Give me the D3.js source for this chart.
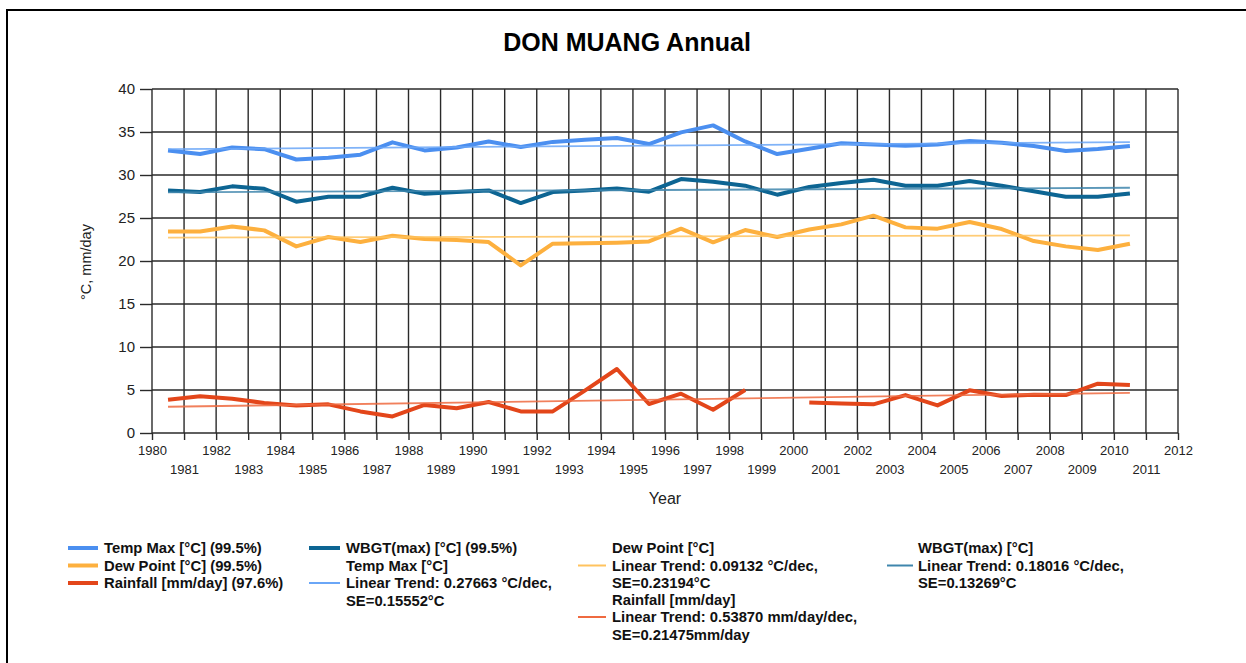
<!DOCTYPE html>
<html>
<head>
<meta charset="utf-8">
<script src="https://cdn.jsdelivr.net/npm/d3@7"></script>
<style>
  body { margin: 0; background: #fff; }
  text { font-family: "Liberation Sans", Arial, sans-serif; }
</style>
</head>
<body>
<div id="chart"></div>
<script>
var width = 1246;
var height = 663;

// years of the annual values (points sit in the middle of each year)
var years = [1980, 1981, 1982, 1983, 1984, 1985, 1986, 1987, 1988, 1989,
             1990, 1991, 1992, 1993, 1994, 1995, 1996, 1997, 1998, 1999,
             2000, 2001, 2002, 2003, 2004, 2005, 2006, 2007, 2008, 2009, 2010];

var tempMax = [32.86, 32.44, 33.2, 33.0, 31.8, 32.0, 32.36, 33.8, 32.86, 33.2,
               33.9, 33.25, 33.85, 34.1, 34.3, 33.6, 34.96, 35.77, 33.9, 32.44,
               33.06, 33.7, 33.56, 33.4, 33.55, 33.95, 33.76, 33.37, 32.79, 33.02, 33.37];
var wbgtMax = [28.21, 28.02, 28.68, 28.4, 26.9, 27.48, 27.48, 28.52, 27.83, 28.02,
               28.21, 26.74, 28.02, 28.21, 28.44, 28.06, 29.53, 29.22, 28.76, 27.71,
               28.6, 29.07, 29.45, 28.76, 28.76, 29.3, 28.76, 28.1, 27.48, 27.48, 27.86];
var dewPoint = [23.44, 23.44, 24.02, 23.56, 21.7, 22.79, 22.2, 22.94, 22.56, 22.44,
                22.2, 19.49, 22.01, 22.05, 22.13, 22.28, 23.76, 22.17, 23.6, 22.79,
                23.67, 24.26, 25.27, 23.91, 23.76, 24.53, 23.72, 22.32, 21.7, 21.28, 22.01];
var rainfall = [3.87, 4.26, 3.99, 3.49, 3.21, 3.33, 2.51, 1.93, 3.26, 2.87,
                3.6, 2.51, 2.51, 4.92, 7.44, 3.37, 4.57, 2.71, 5.0, null,
                3.56, 3.44, 3.33, 4.41, 3.21, 4.96, 4.3, 4.45, 4.41, 5.73, 5.58];

// linear trend lines, value at first and last year
var trendYears = [1980, 2010];
var tempTrend = [33.0, 33.83];
var wbgtTrend = [27.98, 28.52];
var dewTrend = [22.72, 22.99];
var rainTrend = [3.05, 4.67];

var yTicks = [0, 5, 10, 15, 20, 25, 30, 35, 40];
var xTicks = d3.range(1980, 2013);

var series = [
    {name: "Temp Max [°C] (99.5%)", values: tempMax, color: "#4b8ff0"},
    {name: "WBGT(max) [°C] (99.5%)", values: wbgtMax, color: "#0d6593"},
    {name: "Dew Point [°C] (99.5%)", values: dewPoint, color: "#fdb03e"},
    {name: "Rainfall [mm/day] (97.6%)", values: rainfall, color: "#e3461a"}
];
var trends = [
    {values: tempTrend, color: "#6aa6f7"},
    {values: wbgtTrend, color: "#3f86ad"},
    {values: dewTrend, color: "#ffc35e"},
    {values: rainTrend, color: "#ef6a40"}
];

var xScale = d3.scaleLinear().domain([1980, 2012]).range([152, 1178]);
var yScale = d3.scaleLinear().domain([0, 40]).range([433, 89]);

var svg = d3.select("#chart")
    .append("svg")
    .attr("width", width)
    .attr("height", height);

// page frame
svg.append("path")
    .attr("d", "M7," + height + "V10H" + width)
    .attr("fill", "none")
    .attr("stroke", "#000")
    .attr("stroke-width", 2);

svg.append("text")
    .attr("x", 627)
    .attr("y", 51)
    .attr("text-anchor", "middle")
    .style("font-size", "25px")
    .style("font-weight", "bold")
    .text("DON MUANG Annual");

// grid
var gridG = svg.append("g").attr("stroke", "#2a2a2a").attr("stroke-width", 1.4);
gridG.selectAll(".vgrid")
    .data(xTicks)
    .enter()
    .append("line")
    .attr("x1", function(d) { return xScale(d); })
    .attr("x2", function(d) { return xScale(d); })
    .attr("y1", yScale(40))
    .attr("y2", yScale(0));
gridG.selectAll(".hgrid")
    .data(yTicks)
    .enter()
    .append("line")
    .attr("x1", xScale(1980))
    .attr("x2", xScale(2012))
    .attr("y1", function(d) { return yScale(d); })
    .attr("y2", function(d) { return yScale(d); });

// axes
var yAxis = d3.axisLeft(yScale).tickValues(yTicks).tickSize(12).tickPadding(5);
var yAxisG = svg.append("g")
    .attr("transform", "translate(" + xScale(1980) + ",0)")
    .call(yAxis);
yAxisG.select(".domain").remove();
yAxisG.selectAll("line").attr("stroke", "#2a2a2a").attr("stroke-width", 1.4);
yAxisG.selectAll("text")
    .attr("fill", "#222")
    .style("font-size", "15px")
    .style("font-family", "'Liberation Sans', Arial, sans-serif");

var xAxis = d3.axisBottom(xScale).tickValues(xTicks).tickSize(7).tickFormat(d3.format("d"));
var xAxisG = svg.append("g")
    .attr("transform", "translate(0," + yScale(0) + ")")
    .call(xAxis);
xAxisG.select(".domain").remove();
xAxisG.selectAll("line").attr("stroke", "#2a2a2a").attr("stroke-width", 1.4);
xAxisG.selectAll("text")
    .attr("fill", "#222")
    .attr("y", function(d) { return d % 2 == 0 ? 13 : 32; })
    .style("font-size", "13px")
    .style("font-family", "'Liberation Sans', Arial, sans-serif");

svg.append("text")
    .attr("x", 665)
    .attr("y", 504)
    .attr("text-anchor", "middle")
    .attr("fill", "#222")
    .style("font-size", "16px")
    .text("Year");

svg.append("text")
    .attr("transform", "translate(91,262) rotate(-90)")
    .attr("text-anchor", "middle")
    .attr("fill", "#222")
    .style("font-size", "14.5px")
    .text("°C, mm/day");

// data lines
var line = d3.line()
    .defined(function(d) { return d.v != null; })
    .x(function(d) { return xScale(d.year + 0.5); })
    .y(function(d) { return yScale(d.v); });

svg.selectAll(".series")
    .data(series)
    .enter()
    .append("path")
    .attr("class", "series")
    .attr("fill", "none")
    .attr("stroke", function(d) { return d.color; })
    .attr("stroke-width", 4)
    .attr("stroke-linejoin", "round")
    .attr("d", function(s) {
        return line(years.map(function(y, i) { return {year: y, v: s.values[i]}; }));
    });

svg.selectAll(".trend")
    .data(trends)
    .enter()
    .append("path")
    .attr("class", "trend")
    .attr("fill", "none")
    .attr("stroke", function(d) { return d.color; })
    .attr("stroke-width", 1.8)
    .attr("stroke-opacity", 0.85)
    .attr("d", function(s) {
        return line(trendYears.map(function(y, i) { return {year: y, v: s.values[i]}; }));
    });

// legend
var legendG = svg.append("g")
    .style("font-size", "14.8px")
    .style("font-weight", "bold")
    .attr("fill", "#111");

var legendItems = [
    {lx: 68, lw: 30, tx: 104, y: 548, color: series[0].color, w: 4, lines: [series[0].name]},
    {lx: 68, lw: 30, tx: 104, y: 565.5, color: series[2].color, w: 4, lines: [series[2].name]},
    {lx: 68, lw: 30, tx: 104, y: 583, color: series[3].color, w: 4, lines: [series[3].name]},
    {lx: 309, lw: 31, tx: 346, y: 548, color: series[1].color, w: 4, lines: [series[1].name]},
    {lx: 309, lw: 31, tx: 346, y: 583, color: trends[0].color, w: 2, head: "Temp Max [°C]",
     lines: ["Linear Trend: 0.27663 °C/dec,", "SE=0.15552°C"]},
    {lx: 578, lw: 28, tx: 612, y: 565.5, color: trends[2].color, w: 2, head: "Dew Point [°C]",
     lines: ["Linear Trend: 0.09132 °C/dec,", "SE=0.23194°C"]},
    {lx: 578, lw: 28, tx: 612, y: 617, color: trends[3].color, w: 2, head: "Rainfall [mm/day]",
     lines: ["Linear Trend: 0.53870 mm/day/dec,", "SE=0.21475mm/day"]},
    {lx: 887, lw: 26, tx: 918, y: 565.5, color: trends[1].color, w: 2, head: "WBGT(max) [°C]",
     lines: ["Linear Trend: 0.18016 °C/dec,", "SE=0.13269°C"]}
];

legendItems.forEach(function(it) {
    legendG.append("line")
        .attr("x1", it.lx)
        .attr("x2", it.lx + it.lw)
        .attr("y1", it.y)
        .attr("y2", it.y)
        .attr("stroke", it.color)
        .attr("stroke-width", it.w);
    if (it.head) {
        legendG.append("text")
            .attr("x", it.tx)
            .attr("y", it.y - 17.5 + 5)
            .text(it.head);
    }
    it.lines.forEach(function(t, i) {
        legendG.append("text")
            .attr("x", it.tx)
            .attr("y", it.y + i * 17.5 + 5)
            .text(t);
    });
});
</script>
</body>
</html>
